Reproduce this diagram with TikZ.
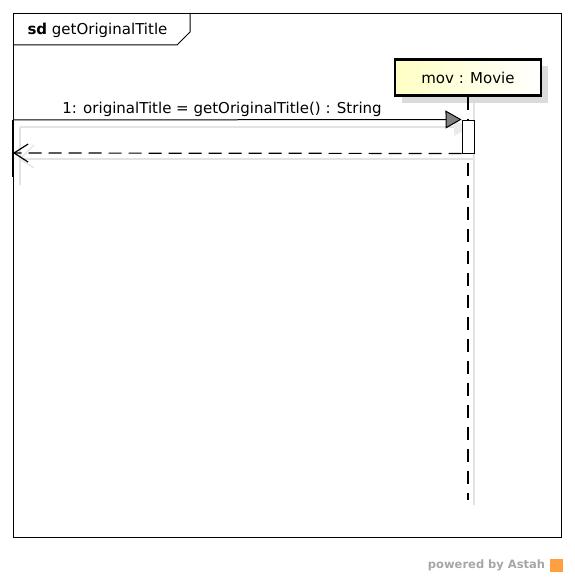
\documentclass[tikz,border=0pt]{standalone}
\usepackage{fontspec}
\setmainfont{DejaVu Sans}
\usetikzlibrary{arrows.meta,positioning,shadows}

\begin{document}
\begin{tikzpicture}[x=1pt,y=-1pt,line width=1pt,font=\fontsize{15}{17}\selectfont,
  shadowline/.style={draw=black!11,line width=1.3pt},
  lifehead/.style={draw,line width=2.6pt,minimum width=146pt,minimum height=36pt,
    left color={rgb,255:red,255;green,255;blue,196},right color=white,
    copy shadow={draw=none,fill=black!14,shadow xshift=7pt,shadow yshift=-7pt}},
  actbox/.style={draw,fill=white,minimum width=12pt,minimum height=33pt,inner sep=0pt},
  msg/.style={draw,-{Triangle[length=16pt,width=18pt,fill=black!50]}},
  ret/.style={draw,line width=1.2pt,dash pattern=on 13pt off 7pt,-{Straight Barb[length=14pt,width=18pt]}}]
   \useasboundingbox (0,0) rectangle (574,578);
   % frame
   \node [draw,minimum width=548pt,minimum height=524pt,anchor=north west] (frame) at (13,13) {};
   \draw (13,45) -- (177,45) -- (190,32) -- (190,13);
   \node [anchor=west,inner sep=0pt] (title) at (27,30) {\textbf{sd} getOriginalTitle};
   % shadows
   \draw [shadowline] (20,127) -- (455,127);
   \draw [shadowline] (20,127) -- (20,185);
   \draw [shadowline] (20,159) -- (474,159);
   \draw [shadowline] (474,103) -- (474,505);
   \fill [black!8] (454,120) -- (469,128) -- (454,136) -- cycle;
   \draw [shadowline] (34,145) -- (20,159) -- (34,168);
   % lifeline
   \node [lifehead] (mov) at (468,77.5) {mov : Movie};
   \coordinate (lifeend) at (468,500);
   \draw [line width=1.2pt,dash pattern=on 13pt off 9pt] (mov.south) -- (lifeend);
   \node [actbox] (act) at (468,136.5) {};
   % caller
   \coordinate (callfrom) at (13,120);
   \coordinate (callret) at (13,153);
   \coordinate (callend) at (13,177);
   \draw [line width=2.6pt] (callfrom) -- (callend);
   \path [msg] (callfrom) -- (act.north west);
   \node (lbl) at (222,109) {1: originalTitle = getOriginalTitle() : String};
   \path [ret] (act.south west) -- (callret);
   % footer
   \node [anchor=east,text=black!35,font=\fontsize{11.5}{13}\selectfont\bfseries] (astah) at (549,565) {powered by Astah};
   \node [fill=orange!75,minimum size=13pt,inner sep=0pt,right=0pt of astah] (logo) {};
\end{tikzpicture}
\end{document}
